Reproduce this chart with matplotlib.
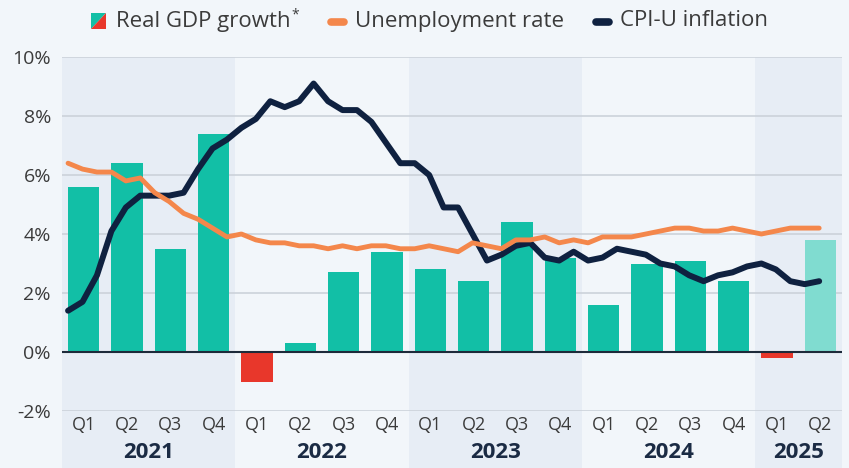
import matplotlib
matplotlib.use('Agg')
import matplotlib.pyplot as plt
import matplotlib.transforms as mtransforms
from matplotlib.patches import Rectangle, Polygon
from matplotlib.lines import Line2D
import numpy as np

plt.rcParams['font.family'] = ['Open Sans', 'DejaVu Sans']

# ===== Data =====
years = ['2021', '2022', '2023', '2024', '2025']
quarters = ['Q1', 'Q2', 'Q3', 'Q4'] * 4 + ['Q1', 'Q2']
gdp_growth = [5.6, 6.4, 3.5, 7.4,
              -1.0, 0.3, 2.7, 3.4,
              2.8, 2.4, 4.4, 3.2,
              1.6, 3.0, 3.1, 2.4,
              -0.2, 3.8]
# monthly, Jan 2021 - May 2025
unemployment = [6.4, 6.2, 6.1, 6.1, 5.8, 5.9, 5.4, 5.1, 4.7, 4.5, 4.2, 3.9,
                4.0, 3.8, 3.7, 3.7, 3.6, 3.6, 3.5, 3.6, 3.5, 3.6, 3.6, 3.5,
                3.5, 3.6, 3.5, 3.4, 3.7, 3.6, 3.5, 3.8, 3.8, 3.9, 3.7, 3.8,
                3.7, 3.9, 3.9, 3.9, 4.0, 4.1, 4.2, 4.2, 4.1, 4.1, 4.2, 4.1,
                4.0, 4.1, 4.2, 4.2, 4.2]
cpi_inflation = [1.4, 1.7, 2.6, 4.1, 4.9, 5.3, 5.3, 5.3, 5.4, 6.2, 6.9, 7.2,
                 7.6, 7.9, 8.5, 8.3, 8.5, 9.1, 8.5, 8.2, 8.2, 7.8, 7.1, 6.4,
                 6.4, 6.0, 4.9, 4.9, 4.0, 3.1, 3.3, 3.6, 3.7, 3.2, 3.1, 3.4,
                 3.1, 3.2, 3.5, 3.4, 3.3, 3.0, 2.9, 2.6, 2.4, 2.6, 2.7, 2.9,
                 3.0, 2.8, 2.4, 2.3, 2.4]
yticks = [-2, 0, 2, 4, 6, 8, 10]

# ===== Style =====
W, H = 849, 468
BG = '#f2f6fa'
BAND = '#e7edf5'
C_GDP = '#12bfa6'
C_GDP_PRELIM = '#80dcd0'
C_NEG = '#e8372b'
C_UNEMP = '#f4874b'
C_CPI = '#0f2140'
C_TEXT = '#3b3b3b'
C_YEAR = '#1b2b44'
C_GRID = '#c9cfd8'


def fx(x):
    return x / W


def fy(y):
    return 1 - y / H


fig = plt.figure(figsize=(W / 100, H / 100), dpi=100, facecolor=BG)
ax = fig.add_axes([fx(62), fy(411), fx(780), 354 / H])
ax.set_facecolor('none')

nq = len(gdp_growth)
xq = np.arange(nq)
ax.set_xlim(-0.5, nq - 0.5)
ax.set_ylim(-2, 10)

blend = mtransforms.blended_transform_factory(ax.transData, fig.transFigure)

# year bands (alternating), running down to the bottom edge
starts = [0, 4, 8, 12, 16]
sizes = [4, 4, 4, 4, 2]
for i, (s, n) in enumerate(zip(starts, sizes)):
    if i % 2 == 0:
        ax.add_patch(Rectangle((s - 0.5, 0), n, fy(57), transform=blend,
                               facecolor=BAND, edgecolor='none', zorder=0,
                               clip_on=False))
    ax.text(s - 0.5 + n / 2, fy(453), years[i], transform=blend, ha='center',
            va='center', fontsize=16, fontweight='bold', color=C_YEAR)

for x, q in zip(xq, quarters):
    ax.text(x, fy(425), q, transform=blend, ha='center', va='center',
            fontsize=13, color=C_TEXT)

# grid
for y in yticks:
    if y == 0:
        continue
    ax.axhline(y, color=C_GRID, linewidth=1.1, zorder=1)

# bars
colors = []
for i, v in enumerate(gdp_growth):
    if v < 0:
        colors.append(C_NEG)
    elif i == nq - 1:
        colors.append(C_GDP_PRELIM)
    else:
        colors.append(C_GDP)
ax.bar(xq, gdp_growth, width=0.72, color=colors, zorder=2)
ax.axhline(0, color='#1d2a3a', linewidth=1.5, zorder=3)

# monthly lines
xm = np.arange(len(cpi_inflation)) / 3 - 0.36
ax.plot(xm, cpi_inflation, color=C_CPI, linewidth=4.3, zorder=4,
        solid_capstyle='round', solid_joinstyle='round')
ax.plot(xm, unemployment, color=C_UNEMP, linewidth=3.5, zorder=5,
        solid_capstyle='round', solid_joinstyle='round')

ax.set_yticks(yticks)
ax.set_yticklabels([f'{v}%' for v in yticks])
ax.set_xticks([])
ax.tick_params(axis='y', length=0, pad=8, labelsize=14, labelcolor=C_TEXT)
for sp in ax.spines.values():
    sp.set_visible(False)

# ===== Legend (manual) =====
x0, x1, y0, y1 = 91, 106, 13, 29
fig.patches.append(Polygon([(fx(x0), fy(y0)), (fx(x1), fy(y0)), (fx(x0), fy(y1))],
                           closed=True, transform=fig.transFigure,
                           facecolor=C_GDP, edgecolor='none'))
fig.patches.append(Polygon([(fx(x1), fy(y0)), (fx(x1), fy(y1)), (fx(x0), fy(y1))],
                           closed=True, transform=fig.transFigure,
                           facecolor=C_NEG, edgecolor='none'))
t = fig.text(fx(116), fy(21), 'Real GDP growth', ha='left', va='center',
             fontsize=16, color=C_TEXT)
fig.canvas.draw()
bb = t.get_window_extent()
fig.text(bb.x1 / W + 0.5 / W, fy(15), '*', ha='left', va='center',
         fontsize=10, color=C_TEXT)

fig.add_artist(Line2D([fx(331), fx(344)], [fy(21.5), fy(21.5)], color=C_UNEMP,
                      linewidth=5.5, solid_capstyle='round'))
fig.text(fx(355), fy(21), 'Unemployment rate', ha='left', va='center',
         fontsize=16, color=C_TEXT)

fig.add_artist(Line2D([fx(596), fx(609)], [fy(21.5), fy(21.5)], color=C_CPI,
                      linewidth=5.5, solid_capstyle='round'))
fig.text(fx(620), fy(21), 'CPI-U inflation', ha='left', va='center',
         fontsize=16, color=C_TEXT)

fig.savefig('out.png', dpi=100, facecolor=BG)
